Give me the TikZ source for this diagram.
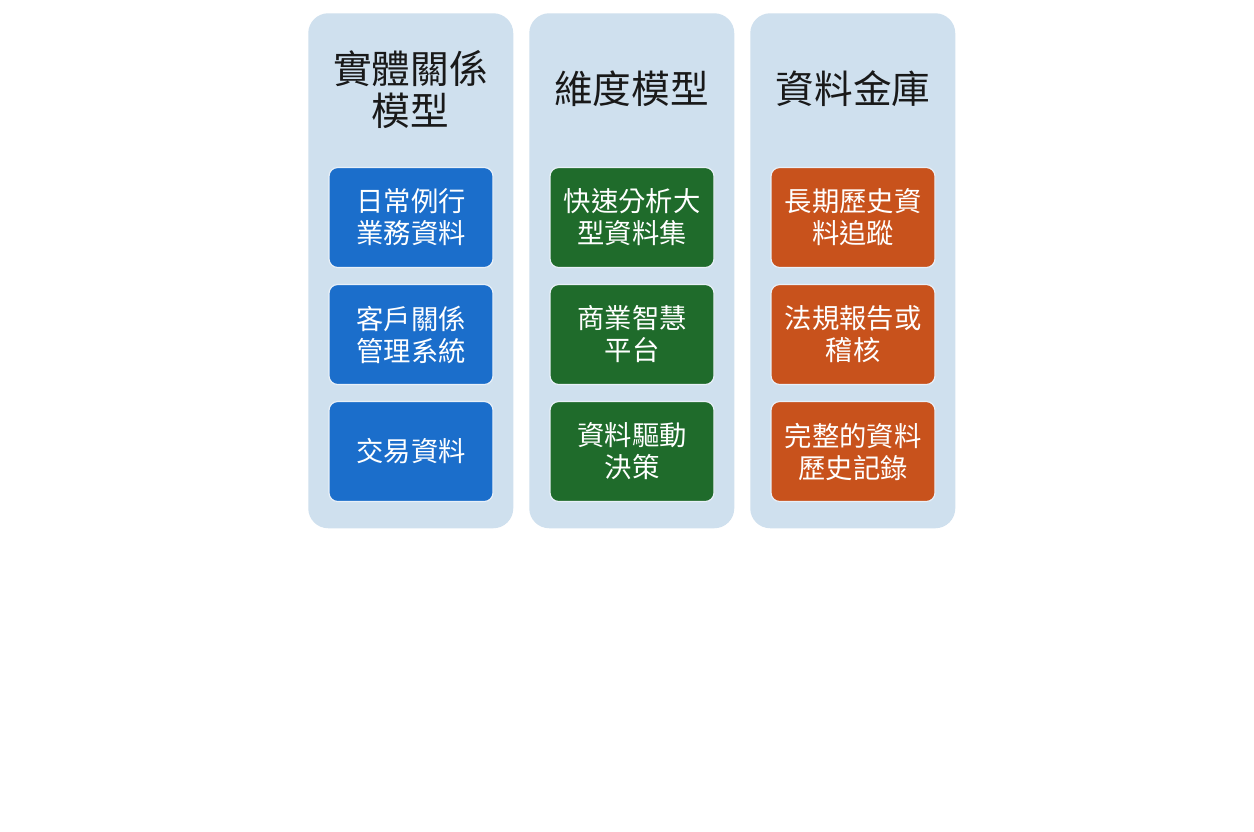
\documentclass[tikz,border=0pt]{standalone}
\usepackage{fontspec}
\newfontfamily\cjk{Noto Sans CJK TC}
\definecolor{panelbg}{HTML}{CFE0EE}
\definecolor{cblue}{HTML}{1B6ECB}
\definecolor{cgreen}{HTML}{1F6B2B}
\definecolor{corange}{HTML}{C8521C}
\definecolor{boxedge}{HTML}{E8F0F8}
\begin{document}
\begin{tikzpicture}[x=0.75pt,y=-0.75pt,
  panel/.style={fill=panelbg,draw=none,rounded corners=15pt,minimum width=205*0.75pt,minimum height=515*0.75pt,anchor=north west},
  title/.style={font=\cjk\fontsize{29pt}{31.5pt}\selectfont,text=black!90,align=center},
  item/.style={draw=boxedge,line width=0.9pt,rounded corners=6.5pt,minimum width=164*0.75pt,minimum height=100*0.75pt,text=white,font=\cjk\fontsize{20.5pt}{24pt}\selectfont,align=center},
  bluebox/.style={item,fill=cblue},
  greenbox/.style={item,fill=cgreen},
  orangebox/.style={item,fill=corange}]
\useasboundingbox[fill=white] (0,0) rectangle (1254,832);
% panels
\node[panel] (p1) at (308,13) {};
\node[panel] (p2) at (529,13) {};
\node[panel] (p3) at (750,13) {};
% titles
\node[title] (t1) at (410.5,89.5) {實體關係\\模型};
\node[title] (t2) at (631.5,89) {維度模型};
\node[title] (t3) at (853,89) {資料金庫};
% column 1
\node[bluebox] (b11) at (411,217.5) {日常例行\\業務資料};
\node[bluebox] (b12) at (411,334.5) {客戶關係\\管理系統};
\node[bluebox] (b13) at (411,451.5) {交易資料};
% column 2
\node[greenbox] (b21) at (632,217.5) {快速分析大\\型資料集};
\node[greenbox] (b22) at (632,334.5) {商業智慧\\平台};
\node[greenbox] (b23) at (632,451.5) {資料驅動\\決策};
% column 3
\node[orangebox] (b31) at (853,217.5) {長期歷史資\\料追蹤};
\node[orangebox] (b32) at (853,334.5) {法規報告或\\稽核};
\node[orangebox] (b33) at (853,451.5) {完整的資料\\歷史記錄};
\end{tikzpicture}
\end{document}
